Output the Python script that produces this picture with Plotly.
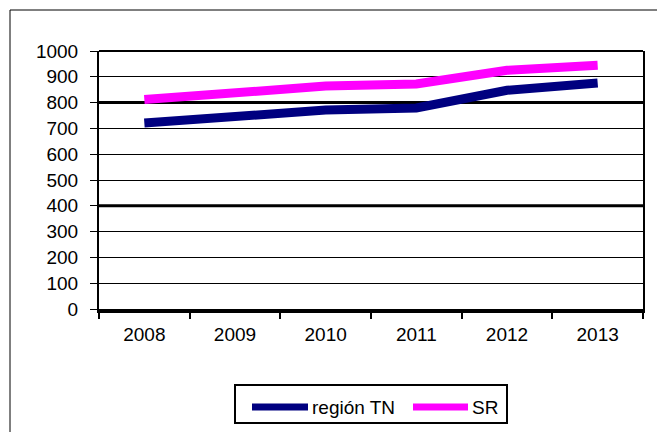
import plotly.graph_objects as go

years = ["2008", "2009", "2010", "2011", "2012", "2013"]
region_tn = [721, 747, 771, 779, 848, 876]
sr = [812, 840, 864, 872, 925, 945]
series_names = ["región TN", "SR"]
series_colors = ["#000080", "#FF00FF"]
y_ticks = [0, 100, 200, 300, 400, 500, 600, 700, 800, 900, 1000]

FONT = "Liberation Sans, Arial, sans-serif"
FS = 19

# plot area in pixels (for converting decoration positions to paper coords)
L, R, T, B = 99, 643, 51, 309
def px(xp):
    return (xp - L) / (R - L)
def py(yp):
    return (B - yp) / (B - T)

fig = go.Figure()
for name, vals, col in zip(series_names, [region_tn, sr], series_colors):
    fig.add_trace(go.Scatter(x=years, y=vals, name=name, mode="lines",
                             line=dict(color=col, width=9), showlegend=False))

shapes = []
for yv in (400, 800):
    shapes.append(dict(type="line", xref="paper", x0=0, x1=1, yref="y", y0=yv, y1=yv,
                       line=dict(color="black", width=3), layer="below"))
shapes.append(dict(type="line", xref="paper", x0=0, x1=1, yref="paper", y0=1, y1=1,
                   line=dict(color="black", width=2), layer="below"))
# outer chart border (runs off the image right and bottom)
shapes.append(dict(type="rect", xref="paper", yref="paper",
                   x0=px(10), x1=px(700), y0=py(470), y1=py(10),
                   line=dict(color="black", width=1), layer="below"))
# legend box
shapes.append(dict(type="rect", xref="paper", yref="paper",
                   x0=px(235), x1=px(507), y0=py(423), y1=py(385),
                   line=dict(color="black", width=2), fillcolor="white"))
annotations = []
legend_items = [(252, 308, 310), (413, 468, 470)]
for (sx0, sx1, tx), name, col in zip(legend_items, series_names, series_colors):
    shapes.append(dict(type="line", xref="paper", yref="paper",
                       x0=px(sx0), x1=px(sx1), y0=py(407), y1=py(407),
                       line=dict(color=col, width=7)))
    annotations.append(dict(xref="paper", yref="paper", x=px(tx), y=py(407),
                            xanchor="left", yanchor="middle", text=name, showarrow=False,
                            font=dict(size=FS, family=FONT, color="black")))

fig.update_layout(
    width=657, height=432,
    margin=dict(l=L, r=657 - R, t=T, b=432 - B, autoexpand=False),
    paper_bgcolor="white", plot_bgcolor="white",
    font=dict(family=FONT, size=FS, color="black"),
    showlegend=False,
    shapes=shapes, annotations=annotations,
)
fig.update_xaxes(type="category", range=[-0.5, 5.5], tickson="boundaries",
                 ticks="outside", ticklen=6, tickwidth=1.5, tickcolor="black",
                 showgrid=False, showline=True, linecolor="black", linewidth=4,
                 tickfont=dict(size=FS, family=FONT), ticklabelstandoff=5, automargin=False)
fig.update_yaxes(range=[0, 1000], tickvals=y_ticks, ticks="outside", ticklen=7,
                 tickcolor="black", tickwidth=1,
                 showgrid=True, gridcolor="black", gridwidth=1, zeroline=False,
                 showline=True, linecolor="black", linewidth=2, mirror=True,
                 tickfont=dict(size=FS, family=FONT), ticklabelstandoff=8, automargin=False)

fig.write_html("out.html", config={"displayModeBar": False},
               post_script="document.body.style.margin='0px';")
